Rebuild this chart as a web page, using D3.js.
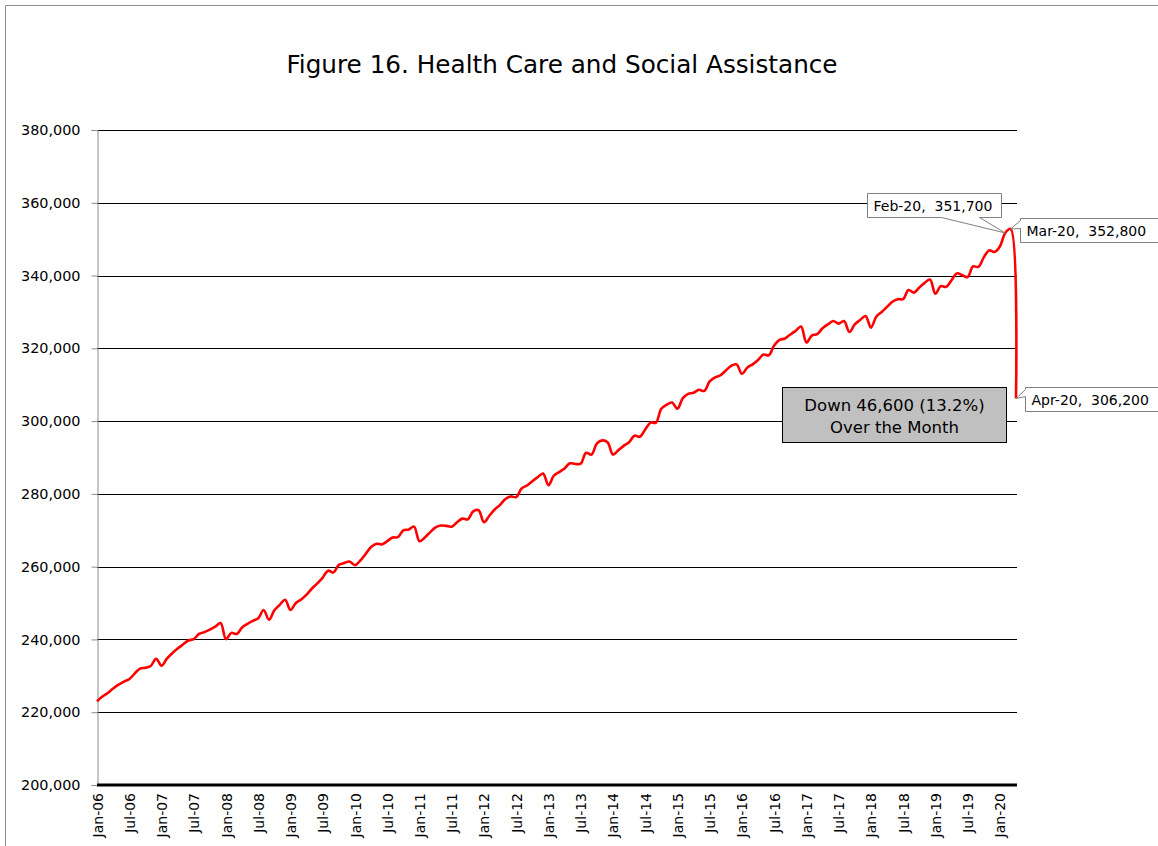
<!DOCTYPE html>
<html>
<head>
<meta charset="utf-8">
<script src="https://cdn.jsdelivr.net/npm/d3@7"></script>
<style>
  html, body { margin: 0; padding: 0; background: #fff; }
  svg text { font-family: "DejaVu Sans", sans-serif; fill: #000; }
</style>
</head>
<body>
<svg id="chart" width="1158" height="846"></svg>
<script>
// Monthly employment, Health Care and Social Assistance, Jan-06 through Apr-20
const employment = [
  223000, 224300, 225300, 226500, 227600, 228400, 229100, 230600, 232000, 232200, 232700, 234700, // 2006
  232800, 234700, 236200, 237500, 238600, 239700, 240100, 241500, 242000, 242700, 243500, 244500, // 2007
  240100, 241800, 241500, 243300, 244300, 245100, 245800, 248100, 245400, 248000, 249500, 250900, // 2008
  248100, 250000, 251000, 252300, 254000, 255400, 257000, 258900, 258400, 260500, 261000, 261400, // 2009
  260400, 261700, 263500, 265400, 266300, 266100, 267000, 268000, 268100, 270000, 270200, 271000, // 2010
  267000, 268000, 269500, 270800, 271300, 271200, 271000, 272200, 273200, 273000, 275200, 275500, // 2011
  272200, 274000, 275700, 277000, 278600, 279300, 279100, 281500, 282300, 283500, 284600, 285600, // 2012
  282400, 285000, 286000, 287000, 288400, 288200, 288300, 291300, 290800, 293800, 294700, 294200, // 2013
  290800, 292000, 293200, 294200, 296000, 295700, 297700, 299600, 299600, 303400, 304500, 305100, // 2014
  303400, 306300, 307500, 307800, 308600, 308300, 310900, 312000, 312600, 313900, 315200, 315600, // 2015
  313000, 314700, 315600, 316800, 318300, 318100, 320800, 322300, 322700, 323800, 324800, 326000, // 2016
  321600, 323500, 323900, 325500, 326600, 327500, 326800, 327500, 324500, 326600, 327800, 328900, // 2017
  325700, 328700, 330000, 331400, 332800, 333500, 333500, 336000, 335300, 336700, 338000, 338900, // 2018
  335000, 337100, 336900, 338700, 340600, 340100, 339600, 342500, 342400, 345000, 346900, 346500, // 2019
  348000, 351700, 352800, 306200                                                                  // 2020
];

// Month categories for the series
const months = d3.timeMonth.range(new Date(2006, 0, 1), new Date(2020, 4, 1));
const monthFmt = d3.timeFormat("%b-%y");
const categories = months.map(monthFmt);

// Axis labels
const xTickLabels = [
  "Jan-06", "Jul-06", "Jan-07", "Jul-07", "Jan-08", "Jul-08", "Jan-09", "Jul-09",
  "Jan-10", "Jul-10", "Jan-11", "Jul-11", "Jan-12", "Jul-12", "Jan-13", "Jul-13",
  "Jan-14", "Jul-14", "Jan-15", "Jul-15", "Jan-16", "Jul-16", "Jan-17", "Jul-17",
  "Jan-18", "Jul-18", "Jan-19", "Jul-19", "Jan-20"
];
const yTickValues = [200000, 220000, 240000, 260000, 280000, 300000, 320000, 340000, 360000, 380000];

const titleText = "Figure 16. Health Care and Social Assistance";
const calloutMonths = ["Feb-20", "Mar-20", "Apr-20"];

const svg = d3.select("#chart");

// Chart frame
svg.append("path")
  .attr("d", "M5.5,846 V5.5 H1158")
  .attr("fill", "none")
  .attr("stroke", "#8c8c8c")
  .attr("stroke-width", 1);

// Title
svg.append("text")
  .attr("x", 562)
  .attr("y", 73)
  .attr("text-anchor", "middle")
  .style("font-size", "24.7px")
  .text(titleText);

const plotLeft = 97, plotRight = 1016, plotTop = 130, plotBottom = 785;

const x = d3.scalePoint().domain(categories).range([plotLeft, plotRight]);
const y = d3.scaleLinear().domain([200000, 380000]).range([plotBottom, plotTop]);

// Horizontal gridlines
svg.append("g")
  .selectAll("line")
  .data(yTickValues.filter(v => v !== 200000))
  .join("line")
  .attr("x1", plotLeft).attr("x2", plotRight + 1)
  .attr("y1", d => Math.round(y(d)) + 0.5)
  .attr("y2", d => Math.round(y(d)) + 0.5)
  .attr("stroke", "#000")
  .attr("stroke-width", 1);

// Y axis
const yAxis = svg.append("g")
  .attr("transform", `translate(${plotLeft + 0.5},0)`)
  .call(d3.axisLeft(y).tickValues(yTickValues).tickFormat(d3.format(",")).tickSize(6).tickPadding(11));
yAxis.select(".domain").attr("stroke", "#8c8c8c");
yAxis.selectAll(".tick line").attr("stroke", "#8c8c8c");
yAxis.selectAll(".tick text")
  .style("font-family", "DejaVu Sans, sans-serif")
  .style("font-size", "14.4px")
  .attr("fill", "#000");

// X axis (baseline at 200,000)
const xAxis = svg.append("g")
  .attr("transform", `translate(0,${plotBottom})`)
  .call(d3.axisBottom(x).tickValues(xTickLabels).tickSize(0).tickPadding(8));
xAxis.select(".domain").remove();
xAxis.selectAll(".tick text")
  .style("font-family", "DejaVu Sans, sans-serif")
  .style("font-size", "14px")
  .attr("fill", "#000")
  .attr("transform", "rotate(-90)")
  .attr("text-anchor", "end")
  .attr("x", -8)
  .attr("y", 0)
  .attr("dy", "0.36em");

svg.append("line")
  .attr("x1", plotLeft).attr("x2", plotRight + 1)
  .attr("y1", plotBottom).attr("y2", plotBottom)
  .attr("stroke", "#000")
  .attr("stroke-width", 3);

// Series line
const line = d3.line()
  .x((d, i) => x(categories[i]))
  .y(d => y(d))
  .curve(d3.curveCatmullRom.alpha(0.5));

svg.append("path")
  .datum(employment)
  .attr("d", line)
  .attr("fill", "none")
  .attr("stroke", "#ff0000")
  .attr("stroke-width", 2.6)
  .attr("stroke-linejoin", "round");

// Callout labels with a wedge pointing at the data point
const fmt = d3.format(",");
const calloutLayout = {
  "Feb-20": { x0: 867, y0: 193, w: 134, h: 24, wedge: "bottom", a: 74, b: 112 },
  "Mar-20": { x0: 1020, y0: 218, w: 140, h: 24, wedge: "left", a: 2, b: 10 },
  "Apr-20": { x0: 1025, y0: 387, w: 140, h: 24, wedge: "left", a: 2, b: 9 }
};

calloutMonths.forEach(m => {
  const i = categories.indexOf(m);
  const px = x(m), py = y(employment[i]);
  const L = calloutLayout[m];
  const x0 = L.x0 + 0.5, y0 = L.y0 + 0.5, x1 = x0 + L.w, y1 = y0 + L.h;
  let d;
  if (L.wedge === "bottom") {
    d = `M${x0},${y0} H${x1} V${y1} H${x0 + L.b} L${px},${py} L${x0 + L.a},${y1} H${x0} Z`;
  } else {
    d = `M${x0},${y0} H${x1} V${y1} H${x0} V${y0 + L.b} L${px},${py} L${x0},${y0 + L.a} Z`;
  }
  svg.append("path")
    .attr("d", d)
    .attr("fill", "#fff")
    .attr("stroke", "#7f7f7f")
    .attr("stroke-width", 1);
  svg.append("text")
    .attr("x", x0 + 6)
    .attr("y", y0 + L.h / 2)
    .attr("dy", "0.36em")
    .attr("xml:space", "preserve")
    .style("white-space", "pre")
    .style("font-size", "14px")
    .text(`${m},  ${fmt(employment[i])}`);
});

// Monthly change annotation
const iMar = categories.indexOf("Mar-20"), iApr = categories.indexOf("Apr-20");
const drop = employment[iMar] - employment[iApr];
const dropPct = drop / employment[iMar] * 100;

const box = svg.append("g");
box.append("rect")
  .attr("x", 782.5).attr("y", 387.5)
  .attr("width", 224).attr("height", 55)
  .attr("fill", "#c0c0c0")
  .attr("stroke", "#000")
  .attr("stroke-width", 1);
box.append("text")
  .attr("x", 894.5).attr("y", 411)
  .attr("text-anchor", "middle")
  .style("font-size", "16.5px")
  .text(`Down ${fmt(drop)} (${dropPct.toFixed(1)}%)`);
box.append("text")
  .attr("x", 894.5).attr("y", 433)
  .attr("text-anchor", "middle")
  .style("font-size", "16.5px")
  .text("Over the Month");
</script>
</body>
</html>
